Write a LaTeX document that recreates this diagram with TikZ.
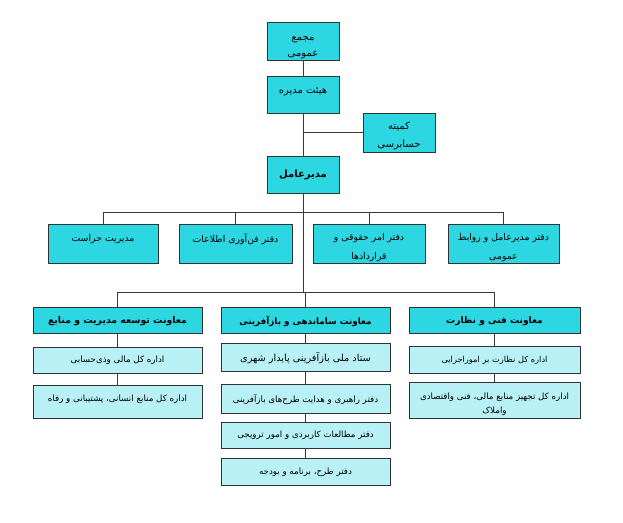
\documentclass[tikz,border=0pt]{standalone}
\usepackage{fontspec}
\newfontfamily\arabicfont[Script=Arabic]{DejaVu Sans}
\TeXXeTstate=1
\newcommand{\pers}[1]{{\arabicfont\beginR #1\endR}}
\definecolor{darkcy}{HTML}{2DD7E2}
\definecolor{lightcy}{HTML}{B8F1F5}
\definecolor{edgecol}{HTML}{333333}
\definecolor{linecol}{HTML}{3A3A3A}
\tikzset{
  sz/.style 2 args={minimum width=#1*0.75pt, minimum height=#2*0.75pt},
  unitbox/.style={draw=edgecol, line width=0.6pt, rectangle, inner sep=0pt},
  topbox/.style={unitbox, fill=darkcy},
  subbox/.style={unitbox, fill=lightcy},
  txt/.style={align=center, inner sep=0pt, font=\fontsize{6.5}{11}\selectfont},
  toptxt/.style={txt, font=\fontsize{7.5}{12}\selectfont},
  rowtxt/.style={txt, font=\fontsize{7}{14.5}\selectfont},
  headtxt/.style={txt, font=\bfseries\fontsize{7}{11}\selectfont},
  conn/.style={draw=linecol, line width=0.7pt},
}
\begin{document}
\begin{tikzpicture}[x=0.75pt,y=-0.75pt]
\useasboundingbox (0,0) rectangle (623,522);
\fill[white] (0,0) rectangle (623,522);
% top chain
\node[topbox, sz={72}{38}] (majma) at (303,41) {};
\node[toptxt] (majma-t) at (303,47.5) {\pers{مجمع}\\\pers{عمومی}};
\node[topbox, sz={72}{37}] (heyat) at (303,94.5) {};
\node[toptxt] (heyat-t) at (303,92) {\pers{هیئت مدیره}};
\node[topbox, sz={72}{39}] (komite) at (399,132.5) {};
\node[toptxt, font=\fontsize{7.5}{13.5}\selectfont] (komite-t) at (399,136) {\pers{کمیته}\\\pers{حسابرسی}};
\node[topbox, sz={72}{37}] (modir) at (303,174.5) {};
\node[txt, font=\bfseries\fontsize{7.5}{11}\selectfont] (modir-t) at (303,174.5) {\pers{مدیرعامل}};
% row 2
\node[topbox, sz={110}{39}] (harasat) at (103,243.5) {};
\node[rowtxt] (harasat-t) at (103,239) {\pers{مدیریت حراست}};
\node[topbox, sz={113}{39}] (fanavari) at (235.5,243.5) {};
\node[rowtxt] (fanavari-t) at (235.5,239) {\pers{دفتر فن‌آوری اطلاعات}};
\node[topbox, sz={112}{39}] (hoghughi) at (369,243.5) {};
\node[rowtxt] (hoghughi-t) at (369,247.5) {\pers{دفتر امر حقوقی و}\\\pers{قراردادها}};
\node[topbox, sz={111}{39}] (ravabet) at (503.5,243.5) {};
\node[rowtxt] (ravabet-t) at (503.5,247.5) {\pers{دفتر مدیرعامل و روابط}\\\pers{عمومی}};
% row 3 headers
\node[topbox, sz={169}{26}] (tose) at (117.5,320) {};
\node[headtxt] (tose-t) at (117.5,321) {\pers{معاونت توسعه مدیریت و منابع}};
\node[topbox, sz={169}{26}] (saman) at (305.5,320) {};
\node[headtxt, font=\bfseries\fontsize{6.6}{11}\selectfont] (saman-t) at (305.5,321) {\pers{معاونت ساماندهی و بازآفرینی}};
\node[topbox, sz={171}{26}] (fanni) at (494.5,320) {};
\node[headtxt, font=\bfseries\fontsize{6.8}{11}\selectfont] (fanni-t) at (494.5,321) {\pers{معاونت فنی و نظارت}};
% left subs
\node[subbox, sz={169}{26}] (mali) at (117.5,360) {};
\node[txt] (mali-t) at (117.5,360.5) {\pers{اداره کل مالی وذی‌حسابی}};
\node[subbox, sz={169}{33}] (ensani) at (117.5,401.5) {};
\node[txt] (ensani-t) at (117.5,399.5) {\pers{اداره کل منابع انسانی، پشتیبانی و رفاه}};
% middle subs
\node[subbox, sz={169}{28}] (setad) at (305.5,357) {};
\node[txt, font=\fontsize{7.3}{11}\selectfont] (setad-t) at (305.5,358.5) {\pers{ستاد ملی بازآفرینی پایدار شهری}};
\node[subbox, sz={169}{29}] (rahbari) at (305.5,398.5) {};
\node[txt] (rahbari-t) at (305.5,399) {\pers{دفتر راهبری و هدایت طرح‌های بازآفرینی}};
\node[subbox, sz={169}{26}] (motaleat) at (305.5,435) {};
\node[txt] (motaleat-t) at (305.5,435.5) {\pers{دفتر مطالعات کاربردی و امور ترویجی}};
\node[subbox, sz={169}{27}] (barname) at (305.5,471.5) {};
\node[txt] (barname-t) at (305.5,472) {\pers{دفتر طرح، برنامه و بودجه}};
% right subs
\node[subbox, sz={171}{27}] (nezarat) at (494.5,359.5) {};
\node[txt, font=\fontsize{6.2}{11}\selectfont] (nezarat-t) at (494.5,360.5) {\pers{اداره کل نظارت بر اموراجرایی}};
\node[subbox, sz={171}{36}] (tajhiz) at (494.5,400) {};
\node[txt, font=\fontsize{6.5}{10.5}\selectfont] (tajhiz-t) at (494.5,404) {\pers{اداره کل تجهیز منابع مالی، فنی واقتصادی}\\\pers{واملاک}};
% connectors
\coordinate (bus2) at (303,212);
\coordinate (bus3) at (303,292);
\draw[conn] (majma.south) -- (heyat.north);
\draw[conn] (heyat.south) -- (modir.north);
\draw[conn] (komite.west) -- (komite.west -| heyat.south);
\draw[conn] (modir.south) -- (modir.south |- bus3);
\draw[conn] (harasat.north) -- (harasat.north |- bus2) -- (ravabet.north |- bus2) -- (ravabet.north);
\draw[conn] (fanavari.north) -- (fanavari.north |- bus2);
\draw[conn] (hoghughi.north) -- (hoghughi.north |- bus2);
\draw[conn] (tose.north) -- (tose.north |- bus3) -- (fanni.north |- bus3) -- (fanni.north);
\draw[conn] (saman.north) -- (saman.north |- bus3);
\draw[conn] (tose.south) -- (mali.north);
\draw[conn] (mali.south) -- (ensani.north);
\draw[conn] (saman.south) -- (setad.north);
\draw[conn] (setad.south) -- (rahbari.north);
\draw[conn] (rahbari.south) -- (motaleat.north);
\draw[conn] (motaleat.south) -- (barname.north);
\draw[conn] (fanni.south) -- (nezarat.north);
\draw[conn] (nezarat.south) -- (tajhiz.north);
\end{tikzpicture}
\end{document}
